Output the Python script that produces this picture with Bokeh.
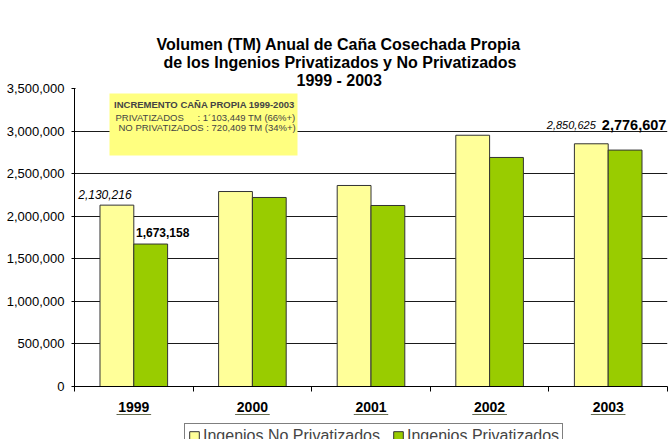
from bokeh.plotting import figure
from bokeh.layouts import column
from bokeh.models import (Range1d, LinearAxis, FixedTicker, NumeralTickFormatter, Legend,
                          LegendItem, Label, BoxAnnotation, ColumnDataSource, Title)
from bokeh.transform import dodge
from bokeh.core.properties import value
from bokeh.embed import file_html
from bokeh.resources import INLINE

# ---------------- data ----------------
years = ["1999", "2000", "2001", "2002", "2003"]
no_privatizados = [2130216, 2290000, 2361000, 2951000, 2850625]
privatizados = [1673158, 2220000, 2126000, 2690000, 2776607]
series_names = ["Ingenios No Privatizados", "Ingenios Privatizados"]
y_ticks = [0, 500000, 1000000, 1500000, 2000000, 2500000, 3000000, 3500000]
labelled_years = ["1999", "2003"]
title_lines = ["Volumen (TM) Anual de Caña Cosechada Propia",
               "de los Ingenios Privatizados y No Privatizados",
               "1999 - 2003"]
note_title = "INCREMENTO CAÑA PROPIA 1999-2003"
note_priv_name = "PRIVATIZADOS"
note_priv_value = ": 1´103,449 TM (66%+)"
note_nopriv = "NO PRIVATIZADOS : 720,409 TM (34%+)"

FONT = "Liberation Sans"
YELLOW = "#FFFF99"
GREEN = "#99CC00"

n = len(years)
centers = [i + 0.5 for i in range(n)]          # category slots on the x scale

p = figure(x_range=Range1d(0, n), y_range=Range1d(0, 3500000),
           frame_width=593, frame_height=298, output_backend="svg", toolbar_location=None,
           x_axis_location=None, min_border_left=74, min_border_right=1,
           min_border_top=88, min_border_bottom=0, title=title_lines[0])
p.outline_line_color = None
p.background_fill_color = "white"

# title: three lines, left offsets place each line centred like the original
def style_title(t, offset, standoff):
    t.align = "left"
    t.text_font = FONT
    t.text_font_size = "16px"
    t.text_font_style = "bold"
    t.text_color = "black"
    t.offset = offset
    t.standoff = standoff

style_title(p.title, 82, -1)
t3 = Title(text=title_lines[2]); style_title(t3, 222, -1); p.add_layout(t3, "above")
t2 = Title(text=title_lines[1]); style_title(t2, 89, -1); p.add_layout(t2, "above")

# bars
src = ColumnDataSource(dict(xc=centers, a=no_privatizados, b=privatizados))
bw = 0.285
r1 = p.vbar(x=dodge("xc", -bw / 2), top="a", width=bw, source=src,
            fill_color=YELLOW, line_color="#333333", line_width=1)
r2 = p.vbar(x=dodge("xc", bw / 2), top="b", width=bw, source=src,
            fill_color=GREEN, line_color="#333333", line_width=1)

# y axis
p.yaxis.ticker = FixedTicker(ticks=y_ticks)
p.yaxis.formatter = NumeralTickFormatter(format="0,0")
p.yaxis.major_label_text_font = FONT
p.yaxis.major_label_text_font_size = "13px"
p.yaxis.major_label_text_color = "black"
p.yaxis.major_tick_out = 3
p.yaxis.major_tick_in = 1
p.yaxis.minor_tick_line_color = None
p.yaxis.axis_line_color = "black"
p.yaxis.major_tick_line_color = "black"
p.yaxis.major_label_standoff = 7

p.xgrid.grid_line_color = None
p.ygrid.ticker = FixedTicker(ticks=y_ticks)
p.ygrid.grid_line_color = "#1a1a1a"
p.ygrid.grid_line_width = 1

# x axis: labels at category centres, tick marks at category boundaries
xax = LinearAxis(ticker=FixedTicker(ticks=centers, minor_ticks=list(range(n + 1))),
                 major_label_overrides={c: y for c, y in zip(centers, years)},
                 axis_line_color="black", major_tick_line_color=None,
                 major_tick_out=5, major_tick_in=0,
                 minor_tick_line_color="black", minor_tick_out=5, minor_tick_in=0,
                 major_label_text_font=FONT, major_label_text_font_size="14px",
                 major_label_text_font_style="bold", major_label_text_color="black",
                 major_label_standoff=10)
p.add_layout(xax, "below")

# data labels
idx = [years.index(y) for y in labelled_years]
lab_a = ColumnDataSource(dict(x=[centers[i] for i in idx], y=[no_privatizados[i] for i in idx],
                              t=["{:,}".format(no_privatizados[i]) for i in idx],
                              xo=[-12, -20], yo=[-11, -19], fs=["12px", "11px"]))
lab_b = ColumnDataSource(dict(x=[centers[i] for i in idx], y=[privatizados[i] for i in idx],
                              t=["{:,}".format(privatizados[i]) for i in idx],
                              xo=[12, 9], yo=[-12, -25], fs=["12px", "14.5px"]))
p.text(x=dodge("x", -bw / 2), y="y", text="t", source=lab_a,
       x_offset="xo", y_offset="yo", text_align="center", text_baseline="alphabetic",
       text_font=value(FONT), text_font_size="fs", text_font_style="italic", text_color="black")
p.text(x=dodge("x", bw / 2), y="y", text="t", source=lab_b,
       x_offset="xo", y_offset="yo", text_align="center", text_baseline="alphabetic",
       text_font=value(FONT), text_font_size="fs", text_font_style="bold", text_color="black")

# note box
p.add_layout(BoxAnnotation(left=35, right=223, top=293, bottom=231,
                           left_units="screen", right_units="screen",
                           top_units="screen", bottom_units="screen",
                           fill_color="#FFFF80", fill_alpha=1, line_color=None))
p.add_layout(Label(x=130, y=282, x_units="screen", y_units="screen", text=note_title,
                   text_font=FONT, text_font_size="9.5px", text_font_style="bold",
                   text_align="center", text_baseline="middle"))
p.add_layout(Label(x=41, y=269, x_units="screen", y_units="screen", text=note_priv_name,
                   text_font=FONT, text_font_size="9.5px", text_align="left",
                   text_baseline="middle"))
p.add_layout(Label(x=123, y=269, x_units="screen", y_units="screen", text=note_priv_value,
                   text_font=FONT, text_font_size="9.5px", text_align="left",
                   text_baseline="middle"))
p.add_layout(Label(x=44, y=259, x_units="screen", y_units="screen", text=note_nopriv,
                   text_font=FONT, text_font_size="9.5px", text_align="left",
                   text_baseline="middle"))

# legend strip: a slim figure under the chart, holding the legend in its frame
pl = figure(width=668, height=25, x_range=Range1d(0, n), y_range=Range1d(-2, -1),
            output_backend="svg", toolbar_location=None, x_axis_location=None,
            y_axis_location=None, min_border=0)
pl.outline_line_color = None
pl.background_fill_color = "white"
pl.xgrid.visible = False
pl.ygrid.visible = False
l1 = pl.vbar(x="xc", top="a", width=bw, source=src,
             fill_color=YELLOW, line_color="#333333", line_width=1)
l2 = pl.vbar(x="xc", top="b", width=bw, source=src,
             fill_color=GREEN, line_color="#333333", line_width=1)
legend = Legend(items=[LegendItem(label=series_names[0], renderers=[l1]),
                       LegendItem(label=series_names[1], renderers=[l2])],
                location=(110, -10), orientation="horizontal",
                label_text_font=FONT, label_text_font_size="16px", label_height=18,
                glyph_width=12, glyph_height=12, label_standoff=3, spacing=12,
                padding=3, margin=0, border_line_color="black", border_line_width=1,
                background_fill_color="white", background_fill_alpha=1)
pl.add_layout(legend, "center")

open("out.html", "w").write(file_html(column(p, pl, spacing=0), INLINE))
